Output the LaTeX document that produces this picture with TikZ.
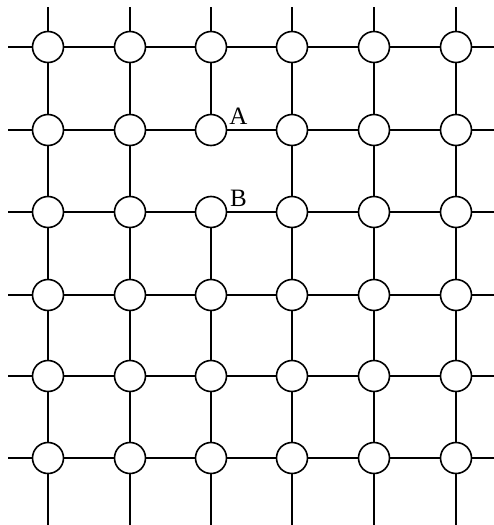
\documentclass[tikz,border=0pt]{standalone}
\usepackage{fontspec}
\setmainfont{Liberation Serif}
\begin{document}
\begin{tikzpicture}[x=1pt,y=-1pt,
  site/.style={circle,draw,line width=1.6pt,fill=white,minimum size=31pt,inner sep=0pt},
  bond/.style={line width=1.2pt},
  lbl/.style={font=\fontsize{25}{30}\selectfont,inner sep=0pt}]
\useasboundingbox (0,0) rectangle (494,525);
\def\xs{{48,130,211,292,374,456}}
\def\ys{{47,130,212,295,376,458}}
\foreach \i in {0,...,5}{
  \foreach \j in {0,...,5}{
    \pgfmathsetmacro\xx{\xs[\i]}
    \pgfmathsetmacro\yy{\ys[\j]}
    \node[site] (c-\i-\j) at (\xx,\yy) {};
  }
  \pgfmathsetmacro\xx{\xs[\i]}
  \pgfmathsetmacro\yy{\ys[\i]}
  \coordinate (top-\i) at (\xx,7);
  \coordinate (bot-\i) at (\xx,525);
  \coordinate (lef-\i) at (8,\yy);
  \coordinate (rig-\i) at (494,\yy);
}
% free ends
\foreach \i in {0,...,5}{
  \draw[bond] (top-\i) -- (c-\i-0);
  \draw[bond] (c-\i-5) -- (bot-\i);
  \draw[bond] (lef-\i) -- (c-0-\i);
  \draw[bond] (c-5-\i) -- (rig-\i);
}
% bonds between neighbours (A--B bond absent)
\foreach \i in {0,...,5}{
  \foreach \j [evaluate=\j as \k using int(\j+1)] in {0,...,4}{
    \draw[bond] (c-\j-\i) -- (c-\k-\i);
    \ifnum\i=2 \ifnum\j=1 \else \draw[bond] (c-\i-\j) -- (c-\i-\k); \fi
    \else \draw[bond] (c-\i-\j) -- (c-\i-\k); \fi
  }
}
\node[lbl] (A) at (238.5,116) {A};
\node[lbl] (B) at (238.5,198) {B};
\end{tikzpicture}
\end{document}
